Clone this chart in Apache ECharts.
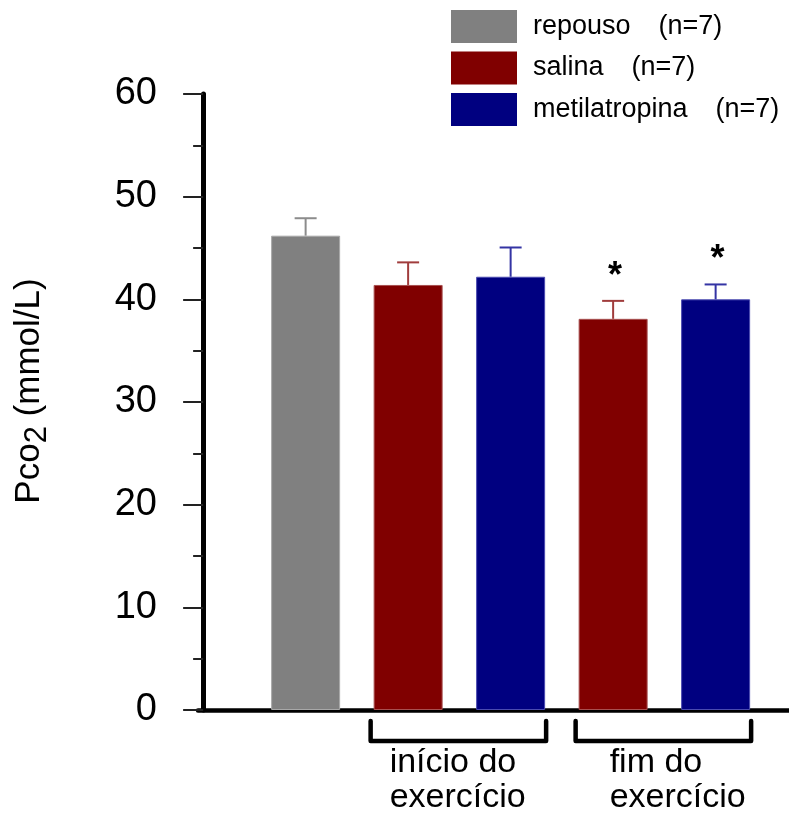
<!DOCTYPE html>
<html>
<head>
<meta charset="utf-8">
<script src="https://cdn.jsdelivr.net/npm/echarts@6/dist/echarts.min.js"></script>
<style>
  html, body { margin: 0; padding: 0; background: #fff; }
  #chart { width: 789px; height: 815px; }
</style>
</head>
<body>
<div id="chart"></div>
<script>
// Treatment groups shown in the legend
const groupNames = ['repouso', 'salina', 'metilatropina'];
const groupN = [7, 7, 7];

// One bar per condition: x slot, group, mean Pco2 and its error
const barSlots = [1, 2, 3, 4, 5];
const barGroup = [0, 1, 2, 1, 2];
const barMeans = [46.2, 41.4, 42.2, 38.1, 40.0];
const barErrors = [1.7, 2.2, 2.85, 1.75, 1.45];
const barSignificant = [false, false, false, true, true];

// Exercise phases bracketing pairs of bars
const phaseLabels = ['início do\nexercício', 'fim do\nexercício'];
const phaseFirstSlot = [2, 4];
const phaseLastSlot = [3, 5];

// Y axis
const yMin = 0;
const yMax = 60;
const yStep = 10;
const yTitleParts = ['Pco', '2', ' (mmol/L)'];

const FONT = '"Liberation Sans", Arial, Helvetica, sans-serif';
const barColors = ['#808080', '#800000', '#000080'];
const barEdges = ['#a8a8a8', '#a85050', '#4a4ab0'];
const errColors = ['#8c8c8c', '#a03c3c', '#3434a4'];
const BAR_W = 69;

const chart = echarts.init(document.getElementById('chart'), null, { renderer: 'canvas' });

const barSeries = groupNames.map((name, g) => ({
  type: 'bar',
  name: name,
  barWidth: BAR_W,
  barGap: '-100%',
  itemStyle: { color: barColors[g], borderColor: barEdges[g], borderWidth: 1 },
  emphasis: { disabled: true },
  data: barSlots
    .map((x, i) => (barGroup[i] === g ? [x, barMeans[i]] : null))
    .filter(d => d !== null),
  z: 2
}));

const errorData = barSlots.map((x, i) => [x, barMeans[i], barErrors[i], barGroup[i], barSignificant[i] ? 1 : 0]);

const errorSeries = {
  type: 'custom',
  name: 'erro',
  data: errorData,
  clip: false,
  z: 3,
  renderItem: function (params, api) {
    const x = api.value(0);
    const m = api.value(1);
    const e = api.value(2);
    const g = api.value(3);
    const sig = api.value(4);
    const base = api.coord([x, m]);
    const top = api.coord([x, m + e]);
    const col = errColors[g];
    const children = [
      { type: 'line', shape: { x1: base[0], y1: base[1], x2: top[0], y2: top[1] },
        style: { stroke: col, lineWidth: 2 } },
      { type: 'line', shape: { x1: top[0] - 11, y1: top[1], x2: top[0] + 11, y2: top[1] },
        style: { stroke: col, lineWidth: 2 } }
    ];
    if (sig) {
      children.push({
        type: 'text',
        style: {
          text: '*', x: top[0] + 2, y: top[1] - 24,
          align: 'center', verticalAlign: 'middle',
          font: 'bold 36px ' + FONT, fill: '#000'
        }
      });
    }
    return { type: 'group', children: children };
  }
};

const phaseData = phaseLabels.map((t, i) => [phaseFirstSlot[i], phaseLastSlot[i], i]);
const phaseTextShift = [19, 34];

const phaseSeries = {
  type: 'custom',
  name: 'fase',
  data: phaseData,
  clip: false,
  z: 4,
  renderItem: function (params, api) {
    const i = api.value(2);
    const p1 = api.coord([api.value(0), 0]);
    const p2 = api.coord([api.value(1), 0]);
    const left = p1[0] - BAR_W / 2 - 3;
    const right = p2[0] + BAR_W / 2 + 1;
    const y0 = p1[1];
    return {
      type: 'group',
      children: [
        { type: 'polyline',
          shape: { points: [[left, y0 + 11], [left, y0 + 31], [right, y0 + 31], [right, y0 + 11]] },
          style: { stroke: '#000', lineWidth: 4.5, fill: null, lineJoin: 'round', lineCap: 'round' } },
        { type: 'text',
          style: {
            text: phaseLabels[i], x: left + phaseTextShift[i], y: y0 + 35,
            align: 'left', verticalAlign: 'top',
            font: '34px ' + FONT, lineHeight: 35, fill: '#000'
          } }
      ]
    };
  }
};

// Y-axis title with a lowered subscript, laid out piece by piece
const titleFonts = ['35px ' + FONT, '31px ' + FONT, '35px ' + FONT];
const titleDrop = [0, 8, 0];
const measureCtx = document.createElement('canvas').getContext('2d');
const titleWidths = yTitleParts.map((t, i) => {
  measureCtx.font = titleFonts[i];
  return measureCtx.measureText(t).width;
});
const titleTotal = titleWidths.reduce((a, b) => a + b, 0);
let cursor = -titleTotal / 2;
const titleChildren = yTitleParts.map((t, i) => {
  const child = {
    type: 'text',
    x: cursor,
    y: titleDrop[i],
    style: { text: t, font: titleFonts[i], fill: '#000', align: 'left', verticalAlign: 'middle' }
  };
  cursor += titleWidths[i];
  return child;
});

const option = {
  animation: false,
  backgroundColor: '#fff',
  grid: { left: 198, right: 0, top: 94, bottom: 105, containLabel: false },
  legend: {
    orient: 'vertical',
    left: 451,
    top: 10,
    padding: 0,
    itemWidth: 66,
    itemHeight: 33,
    itemGap: 8.5,
    icon: 'rect',
    selectedMode: false,
    data: groupNames,
    itemStyle: { borderWidth: 0 },
    formatter: function (name) {
      const n = groupN[groupNames.indexOf(name)];
      return '{n|' + name + '}{g|(n=' + n + ')}';
    },
    textStyle: {
      fontFamily: FONT, fontSize: 27, color: '#000',
      rich: {
        n: { fontFamily: FONT, fontSize: 27, color: '#000', padding: [0, 0, 0, 11] },
        g: { fontFamily: FONT, fontSize: 27, color: '#000', padding: [0, 0, 0, 28] }
      }
    }
  },
  xAxis: {
    type: 'value',
    min: -0.05,
    max: 591 / 102.5 - 0.05,
    axisLine: { show: true, onZero: true, lineStyle: { color: '#000', width: 4.5 } },
    axisTick: { show: false },
    axisLabel: { show: false },
    splitLine: { show: false }
  },
  yAxis: {
    type: 'value',
    min: yMin,
    max: yMax,
    interval: yStep,
    axisLine: { show: true, onZero: true, lineStyle: { color: '#000', width: 5 } },
    axisTick: { show: true, length: 20, lineStyle: { color: '#222', width: 2 } },
    minorTick: { show: true, splitNumber: 2, length: 10, lineStyle: { color: '#222', width: 2 } },
    axisLabel: { fontFamily: FONT, fontSize: 38, color: '#000', margin: 41 },
    splitLine: { show: false },
    minorSplitLine: { show: false }
  },
  graphic: [
    {
      type: 'group',
      x: 29,
      y: 391,
      rotation: Math.PI / 2,
      children: titleChildren
    }
  ],
  series: barSeries.concat([errorSeries, phaseSeries])
};

chart.setOption(option);
</script>
</body>
</html>
